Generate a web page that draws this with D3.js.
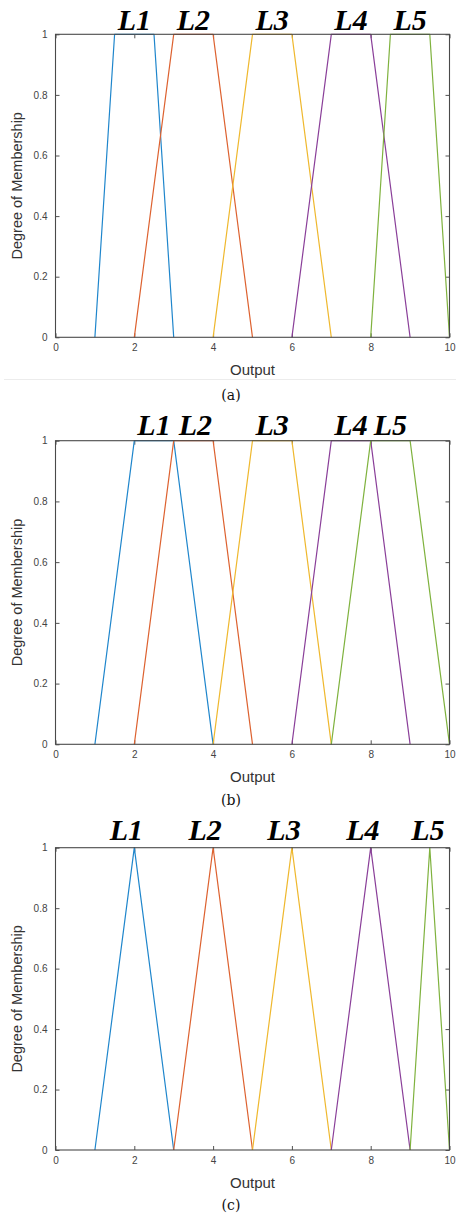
<!DOCTYPE html>
<html>
<head>
<meta charset="utf-8">
<script src="https://cdn.jsdelivr.net/npm/d3@7"></script>
<style>
  html, body { margin: 0; padding: 0; background: #fff; }
  svg { display: block; }
</style>
</head>
<body>
<svg id="chart" width="456" height="1218"></svg>
<script>
// ---- data ----
const xTicks = [0, 2, 4, 6, 8, 10];
const yTicks = [0, 0.2, 0.4, 0.6, 0.8, 1];
const setNames = ["L1", "L2", "L3", "L4", "L5"];
const membership = [0, 1, 1, 0];
// trapezoid corner points (x) for each fuzzy set, per panel
const panelA = [[1, 1.5, 2.5, 3], [2, 3, 4, 5], [4, 5, 6, 7], [6, 7, 8, 9], [8, 8.5, 9.5, 10]];
const panelB = [[1, 2, 3, 4], [2, 3, 4, 5], [4, 5, 6, 7], [6, 7, 8, 9], [7, 8, 9, 10]];
const panelC = [[1, 2, 2, 3], [3, 4, 4, 5], [5, 6, 6, 7], [7, 8, 8, 9], [9, 9.5, 9.5, 10]];
const labelXA = [2.0, 3.5, 5.5, 7.5, 9.0];
const labelXB = [2.5, 3.55, 5.5, 7.5, 8.5];
const labelXC = [1.8, 3.8, 5.8, 7.8, 9.45];
const captions = ["(a)", "(b)", "(c)"];
const xLabel = "Output";
const yLabel = "Degree of Membership";
const colors = ["#1f86cc", "#dd6230", "#efb82e", "#8a3f99", "#7fb23e"];

// ---- layout ----
const svg = d3.select("#chart");
const left = 55.5, right = 449.5;
const panels = [
  { sets: panelA, labels: labelXA, caption: captions[0], top: 34.3, bottom: 337.3, capOff: 62.5, labelBase: 29.5 },
  { sets: panelB, labels: labelXB, caption: captions[1], top: 440.7, bottom: 744.3, capOff: 60.5, labelBase: 435 },
  { sets: panelC, labels: labelXC, caption: captions[2], top: 847.7, bottom: 1150, capOff: 60, labelBase: 839.5 }
];

// separator under panel (a)
svg.append("line").attr("x1", 4).attr("x2", 456).attr("y1", 379.5).attr("y2", 379.5)
  .attr("stroke", "#ececec").attr("stroke-width", 1);

panels.forEach(p => {
  const x = d3.scaleLinear().domain([0, 10]).range([left, right]);
  const y = d3.scaleLinear().domain([0, 1]).range([p.bottom, p.top]);
  const g = svg.append("g");

  // axes with inward ticks
  const axStyle = sel => {
    sel.select(".domain").remove();
    sel.selectAll(".tick line").attr("stroke", "#262626").attr("stroke-width", 0.8);
  };
  const bottomAx = g.append("g").attr("transform", `translate(0,${p.bottom})`)
    .call(d3.axisBottom(x).tickValues(xTicks).tickSize(-4).tickPadding(8).tickFormat(d3.format("d")));
  axStyle(bottomAx);
  bottomAx.selectAll("text").attr("font-family", "Liberation Sans, Arial, sans-serif")
    .attr("font-size", 10).attr("fill", "#444").attr("dy", "0.55em");
  const topAx = g.append("g").attr("transform", `translate(0,${p.top})`)
    .call(d3.axisTop(x).tickValues(xTicks).tickSize(-4).tickFormat(""));
  axStyle(topAx);
  const leftAx = g.append("g").attr("transform", `translate(${left},0)`)
    .call(d3.axisLeft(y).tickValues(yTicks).tickSize(-4).tickPadding(8).tickFormat(d => d === 0 || d === 1 ? d3.format("d")(d) : d3.format(".1f")(d)));
  axStyle(leftAx);
  leftAx.selectAll("text").attr("font-family", "Liberation Sans, Arial, sans-serif")
    .attr("font-size", 10).attr("fill", "#444");
  const rightAx = g.append("g").attr("transform", `translate(${right},0)`)
    .call(d3.axisRight(y).tickValues(yTicks).tickSize(-4).tickFormat(""));
  axStyle(rightAx);

  // membership functions
  const line = d3.line().x(d => x(d[0])).y(d => y(d[1]));
  p.sets.forEach((pts, i) => {
    g.append("path")
      .datum(pts.map((v, k) => [v, membership[k]]))
      .attr("d", line)
      .attr("fill", "none")
      .attr("stroke", colors[i])
      .attr("stroke-width", 1.2)
      .attr("stroke-linejoin", "round");
  });

  // frame
  g.append("rect").attr("x", left).attr("y", p.top)
    .attr("width", right - left).attr("height", p.bottom - p.top)
    .attr("fill", "none").attr("stroke", "#4a4a4a").attr("stroke-width", 1.1);

  // set labels
  p.labels.forEach((lx, i) => {
    g.append("text").attr("x", x(lx)).attr("y", p.labelBase)
      .attr("text-anchor", "middle")
      .attr("font-family", "Liberation Serif, Times New Roman, serif")
      .attr("font-weight", "bold").attr("font-style", "italic")
      .attr("font-size", 30).attr("fill", "#000")
      .text(setNames[i]);
  });

  // axis titles
  g.append("text").attr("x", (left + right) / 2).attr("y", p.bottom + 38)
    .attr("text-anchor", "middle")
    .attr("font-family", "Liberation Sans, Arial, sans-serif")
    .attr("font-size", 15).attr("fill", "#333").text(xLabel);
  g.append("text")
    .attr("transform", `translate(22,${(p.top + p.bottom) / 2}) rotate(-90)`)
    .attr("text-anchor", "middle")
    .attr("font-family", "Liberation Sans, Arial, sans-serif")
    .attr("font-size", 14.5).attr("fill", "#333").text(yLabel);

  // caption
  g.append("text").attr("x", 231).attr("y", p.bottom + p.capOff)
    .attr("text-anchor", "middle")
    .attr("font-family", "DejaVu Serif, serif")
    .attr("font-size", 14).attr("fill", "#111").text(p.caption);
});
</script>
</body>
</html>
